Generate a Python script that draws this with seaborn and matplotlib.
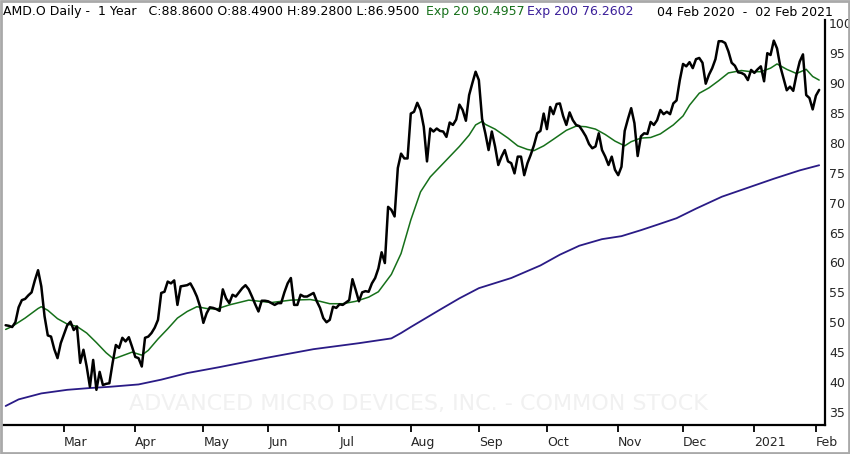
import numpy as np
import pandas as pd
import matplotlib
matplotlib.use("Agg")
import matplotlib.pyplot as plt
import seaborn as sns
from matplotlib.patches import Rectangle

# trading sessions shown on the chart
start_date = "2020-02-04"
end_date = "2021-02-02"
market_holidays = ["2020-02-17", "2020-04-10", "2020-05-25", "2020-07-03", "2020-09-07",
                   "2020-11-26", "2020-12-25", "2021-01-01", "2021-01-18"]

# daily closes (one value per session)
close = [
    49.5, 49.4, 49.2, 50.0, 52.5, 53.7, 53.9, 54.5, 55.0, 57.0,
    58.7, 56.0, 51.0, 47.8, 47.6, 45.5, 44.0, 46.5, 48.0, 49.5,
    50.1, 48.7, 49.3, 43.2, 45.4, 42.6, 39.2, 43.7, 38.7, 41.7,
    39.5, 39.7, 39.8, 43.2, 46.2, 45.7, 47.4, 46.8, 47.5, 45.9,
    44.2, 44.0, 42.6, 47.4, 47.6, 48.2, 49.1, 50.4, 54.9, 55.1,
    56.8, 56.5, 57.0, 52.9, 56.0, 56.1, 56.2, 56.5, 55.5, 54.3,
    52.6, 49.9, 51.5, 52.5, 52.4, 52.2, 51.9, 55.5, 54.0, 53.2,
    54.6, 54.3, 55.0, 55.7, 56.2, 55.5, 54.3, 53.0, 51.8, 53.6,
    53.6, 53.5, 53.2, 52.9, 53.2, 53.2, 55.0, 56.5, 57.4, 52.9,
    52.9, 54.6, 54.3, 54.3, 54.6, 54.9, 53.5, 52.4, 50.7, 50.0,
    50.4, 52.6, 52.4, 53.0, 52.9, 53.3, 53.7, 57.2, 55.4, 53.5,
    55.0, 55.2, 55.1, 56.5, 57.4, 59.0, 61.7, 59.9, 69.3, 68.8,
    67.7, 75.8, 78.2, 77.4, 77.4, 84.9, 85.2, 86.7, 85.5, 82.7,
    76.9, 82.4, 81.9, 82.4, 82.0, 81.9, 81.0, 83.4, 83.0, 83.9,
    86.4, 85.5, 83.7, 88.0, 90.0, 91.9, 90.5, 84.0, 81.6, 78.8,
    81.9, 79.4, 76.3, 77.7, 78.8, 76.9, 76.6, 74.9, 77.7, 77.7,
    74.6, 76.6, 78.0, 79.6, 81.6, 82.0, 84.9, 82.3, 86.0, 84.8,
    86.5, 86.6, 84.5, 83.0, 85.1, 83.8, 83.0, 82.8, 82.0, 81.1,
    79.8, 79.1, 79.4, 81.6, 78.8, 77.7, 76.3, 77.7, 75.5, 74.6,
    76.0, 82.0, 84.0, 85.8, 83.3, 77.8, 81.1, 81.6, 81.5, 83.5,
    83.0, 83.8, 85.5, 84.8, 85.2, 84.8, 86.6, 87.1, 90.5, 93.2,
    92.8, 93.5, 92.5, 94.0, 94.2, 93.4, 89.9, 91.4, 92.5, 94.0,
    97.0, 97.0, 96.7, 95.3, 93.4, 92.9, 91.8, 91.7, 91.4, 90.5,
    92.2, 91.7, 92.3, 92.8, 90.3, 95.0, 94.7, 97.1, 95.8, 92.8,
    90.8, 88.8, 89.4, 88.7, 91.4, 93.6, 94.8, 88.0, 87.5, 85.6,
    87.9, 88.86,
]

# exponential averages, read at these session numbers
ema20_sessions = [0, 2, 6, 10, 11, 13, 16, 19, 22, 25, 28, 31, 33, 34, 36, 39, 42, 44,
                  47, 50, 53, 56, 59, 62, 65, 69, 75, 82, 88, 94, 97, 100, 104, 108,
                  112, 115, 119, 122, 125, 128, 131, 134, 137, 140, 143, 145, 147, 148,
                  151, 155, 158, 161, 163, 166, 169, 173, 176, 179, 182, 185, 188, 191,
                  193, 196, 199, 202, 206, 209, 211, 214, 217, 220, 223, 227, 230, 233,
                  236, 238, 241, 244, 247, 249, 251]
ema20 = [48.8, 49.3, 50.7, 52.3, 52.6, 52.0, 50.6, 49.7, 49.3, 48.2, 46.6, 44.9, 44.0,
         44.0, 44.4, 45.0, 44.5, 45.3, 47.2, 48.9, 50.7, 51.8, 52.6, 52.3, 52.2, 52.9,
         53.7, 53.3, 53.7, 53.8, 53.5, 53.1, 53.1, 53.5, 54.2, 55.1, 58.0, 61.5, 67.1,
         71.8, 74.3, 76.0, 77.7, 79.4, 81.3, 83.0, 83.6, 83.1, 82.3, 80.8, 79.5, 78.9,
         78.7, 79.5, 80.6, 82.1, 82.8, 82.7, 82.3, 81.4, 80.3, 79.5, 80.2, 80.8, 80.9,
         81.5, 83.0, 84.5, 86.3, 88.3, 89.2, 90.4, 91.7, 92.1, 91.9, 91.9, 92.5, 93.2,
         92.3, 91.6, 92.3, 91.1, 90.5]

ema200_sessions = [0, 4, 11, 19, 26, 32, 41, 48, 56, 66, 80, 95, 109, 119, 122, 125,
                   134, 140, 146, 156, 165, 171, 177, 184, 190, 196, 201, 207, 213, 221,
                   229, 237, 245, 251]
ema200 = [36.0, 37.1, 38.1, 38.7, 39.0, 39.2, 39.6, 40.4, 41.5, 42.5, 44.0, 45.5, 46.5,
          47.3, 48.2, 49.2, 52.1, 54.0, 55.7, 57.4, 59.5, 61.3, 62.8, 63.9, 64.4, 65.4,
          66.3, 67.4, 69.0, 71.0, 72.5, 74.0, 75.4, 76.26]

header_left = "AMD.O Daily -  1 Year   C:88.8600 O:88.4900 H:89.2800 L:86.9500"
header_ema20 = "Exp 20 90.4957"
header_ema200 = "Exp 200 76.2602"
header_range = "04 Feb 2020  -  02 Feb 2021"
watermark = "ADVANCED MICRO DEVICES, INC. - COMMON STOCK"
y_ticks = list(range(35, 101, 5))

GREEN = "#16701a"
PURPLE = "#2a1b86"


def main():
    sessions = pd.bdate_range(start_date, end_date)
    sessions = sessions[~sessions.isin(pd.to_datetime(market_holidays))]
    n = len(sessions)
    assert n == len(close)

    df = pd.DataFrame({"session": np.arange(n), "close": close})
    df20 = pd.DataFrame({"session": ema20_sessions, "ema": ema20})
    df200 = pd.DataFrame({"session": ema200_sessions, "ema": ema200})

    sns.set_style("white")
    plt.rcParams["font.family"] = ["DejaVu Sans"]

    W, H = 850, 454
    fig = plt.figure(figsize=(W / 100, H / 100), dpi=100)
    ax = fig.add_axes([3 / W, 1 - 424.5 / H, 822 / W, 404.5 / H])

    sns.lineplot(data=df200, x="session", y="ema", color=PURPLE, lw=1.3, ax=ax)
    sns.lineplot(data=df20, x="session", y="ema", color=GREEN, lw=1.1, ax=ax)
    sns.lineplot(data=df, x="session", y="close", color="black", lw=1.8, ax=ax)

    ax.text(0.505, 0.05, watermark, transform=ax.transAxes, ha="center", va="center",
            fontsize=16, color="#f1f1f1", zorder=0)

    ax.set_xlim(-0.82, 252.8)
    ax.set_ylim(32.9, 100.55)

    # month ticks at the first session of each month
    months = sessions.to_period("M")
    first = [i for i in range(1, n) if months[i] != months[i - 1]]
    labels = ["2021" if sessions[i].month == 1 else sessions[i].strftime("%b") for i in first]
    ax.set_xticks(first)
    ax.set_xticklabels(labels, ha="left")
    ax.tick_params(axis="x", direction="out", length=5, width=1.3, pad=3,
                   labelsize=9, color="black", bottom=True)

    ax.yaxis.tick_right()
    ax.set_yticks(y_ticks)
    ax.set_yticklabels([str(v) for v in y_ticks], ha="left")
    ax.tick_params(axis="y", length=0, pad=3, labelsize=9, right=True, left=False)

    ax.set_xlabel("")
    ax.set_ylabel("")
    for side in ["left", "top"]:
        ax.spines[side].set_visible(False)
    for side in ["bottom", "right"]:
        ax.spines[side].set_visible(True)
        ax.spines[side].set_color("black")
        ax.spines[side].set_linewidth(1.6)

    # header line
    ty = 1 - 12 / H
    fig.text(3 / W, ty, header_left, fontsize=9, va="center", ha="left", color="black")
    fig.text(426 / W, ty, header_ema20, fontsize=9, va="center", ha="left", color=GREEN)
    fig.text(527 / W, ty, header_ema200, fontsize=9, va="center", ha="left", color="#3b1f9a")
    fig.text(657 / W, ty, header_range, fontsize=9, va="center", ha="left", color="black")

    fig.patches.append(Rectangle((1 / W, 1 / H), (W - 2) / W, (H - 2) / H, transform=fig.transFigure,
                                 fill=False, ec="#a9a9a9", lw=2))

    fig.savefig("out.png", dpi=100)


if __name__ == "__main__":
    main()
